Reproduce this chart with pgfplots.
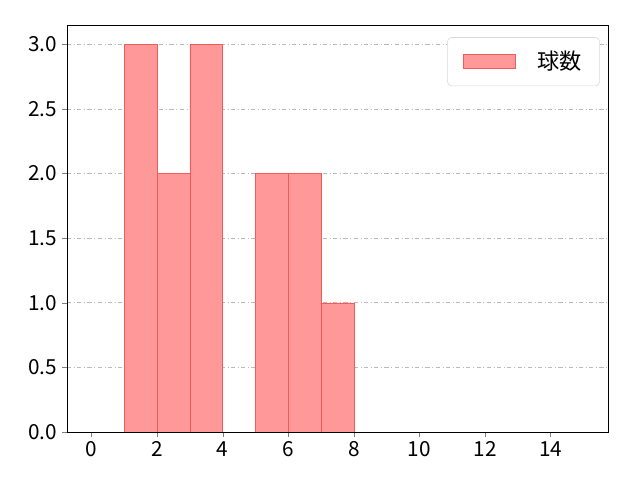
\documentclass[border=0pt]{standalone}
\usepackage{pgfplots}
\pgfplotsset{compat=1.18}
\usepackage{fontspec}
\setmainfont{Noto Sans CJK JP}
\definecolor{barfill}{RGB}{255,153,153}
\definecolor{baredge}{RGB}{245,90,90}
\begin{document}
\begin{tikzpicture}
\path[use as bounding box] (0,0) rectangle (6.4in,4.8in);
\begin{axis}[
    at={(0.67in,0.48in)}, anchor=south west,
    scale only axis, width=5.41in, height=4.07in,
    xmin=-0.75, xmax=15.75, ymin=0, ymax=3.15,
    xtick={0,2,...,14}, ytick={0,0.5,...,3},
    yticklabel style={/pgf/number format/.cd,fixed,fixed zerofill,precision=1},
    /pgf/number format/assume math mode=true,
    tick align=outside, tick pos=left, major tick length=3.5pt,
    ymajorgrids, grid style={gray!55, dash dot, line width=0.6pt},
    font=\fontsize{15}{18}\selectfont,
    legend style={at={(0.985,0.97)}, anchor=north east, draw=gray!30,
        rounded corners=3pt, inner xsep=11pt, inner ysep=8pt,
        font=\fontsize{16}{19}\selectfont},
    legend cell align=left,
    legend image code/.code={\draw[sharp corners, fill=barfill, draw=baredge] (0in,-0.07in) rectangle (0.52in,0.07in);},
]
\addplot[ybar interval, fill=barfill, draw=baredge]
  coordinates {(1,3) (2,2) (3,3) (4,3)};
\addlegendentry{\hspace{14pt}球数}
\addplot[ybar interval, fill=barfill, draw=baredge, forget plot]
  coordinates {(5,2) (6,2) (7,1) (8,1)};
\end{axis}
\end{tikzpicture}
\end{document}
